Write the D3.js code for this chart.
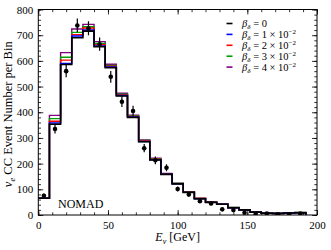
<!DOCTYPE html>
<html><head><meta charset="utf-8">
<script src="https://cdn.jsdelivr.net/npm/d3@7"></script>
<style>
body{margin:0;background:#fff}
svg{display:block}
text{font-family:"Liberation Serif","DejaVu Serif",serif;fill:#000}
</style>
</head><body>
<svg id="c" width="331" height="250"></svg>
<script>
// bin edges (GeV)
const binEdges = [0,8,16,24,32,40,48,56,64,72,80,88,96,104,112,120,128,136,144,152,160,168,176,184,192];
// predicted histograms for each beta_delta
const beta0 = [65,353,586,690,716,655,573,463,380,285,214,158,121,88,63,49,42,28,20,11,7,6,8,9];
const beta1 = [65,358,590,697,720,658,576,465,382,286,215,159,121,88,63,49,42,28,20,11,7,6,8,9];
const beta2 = [65,365,603,702,728,663,579,467,384,288,217,160,122,89,64,50,42,28,20,11,7,6,8,9];
const beta3 = [65,375,614,711,733,668,582,470,386,290,219,161,123,90,64,50,43,29,21,12,8,7,9,10];
const beta4 = [66,388,632,724,742,675,587,474,389,292,221,162,124,91,65,51,43,29,21,12,8,7,9,10];
const seriesLabels = ["0","1","2","3","4"];
// NOMAD data
const dataE = [4,12,20,28,36,44,52,60,68,76,84,92,100,108,116,124,132,140,148,156,164,172,180,188];
const dataN = [75,335,560,738,727,665,538,441,405,260,213,184,101,80,54,45,22,19,9,4,6,3,3,6];
const dataErr = [9,18,24,27,27,26,23,21,20,16,15,14,10,9,7,7,5,4,3,2,2,2,2,2];
const xTicks = [0,50,100,150,200];
const yTicks = [0,100,200,300,400,500,600,700,800];

const svg = d3.select("#c");
const L = 38.3, R = 317, T = 9.5, B = 215;
const x = d3.scaleLinear().domain([0,200]).range([L,R]);
const y = d3.scaleLinear().domain([0,800]).range([B,T]);

const series = [
  {v: beta4, c: "#800080", w: 1.4},
  {v: beta3, c: "#00a000", w: 1.4},
  {v: beta2, c: "#ff0000", w: 1.4},
  {v: beta1, c: "#0000ff", w: 1.4},
  {v: beta0, c: "#000000", w: 1.6}
];

const clipId = "pc";
svg.append("clipPath").attr("id", clipId).append("rect")
  .attr("x", L).attr("y", T).attr("width", R-L).attr("height", B-T);

function stepPts(vals){
  const pts = [];
  vals.forEach((v,i)=>{ pts.push([binEdges[i], v]); pts.push([binEdges[i+1], v]); });
  pts.push([binEdges[binEdges.length-1], 0]);
  return pts;
}
const line = d3.line().x(d=>x(d[0])).y(d=>y(d[1]));
const g = svg.append("g").attr("clip-path", `url(#${clipId})`);
series.forEach(s=>{
  g.append("path").attr("d", line(stepPts(s.v)))
    .attr("fill","none").attr("stroke", s.c).attr("stroke-width", s.w)
    .attr("stroke-linejoin","miter");
});

// data points with error bars
dataE.forEach((e,i)=>{
  g.append("line").attr("x1", x(e)).attr("x2", x(e))
    .attr("y1", y(dataN[i]-dataErr[i])).attr("y2", y(dataN[i]+dataErr[i]))
    .attr("stroke","#000").attr("stroke-width",1.2);
  g.append("circle").attr("cx", x(e)).attr("cy", y(dataN[i])).attr("r", 2.3).attr("fill","#000");
});

// axes
const minorX = d3.range(0,201,10);
const minorY = d3.range(0,801,20);
function ax(gen, scale, vals, size, fmt, tr){
  const a = svg.append("g").attr("transform", tr)
    .call(gen(scale).tickValues(vals).tickSize(size).tickPadding(4).tickFormat(fmt));
  a.select(".domain").remove();
  a.selectAll("line").attr("stroke","#000").attr("stroke-width",0.8);
  a.selectAll("text").attr("font-size", 11).style("font-family",'"Liberation Serif",serif');
  return a;
}
ax(d3.axisBottom, x, minorX, -2.7, "", `translate(0,${B})`);
ax(d3.axisBottom, x, xTicks, -5, d3.format("d"), `translate(0,${B})`).selectAll("text").attr("dy","0.95em");
ax(d3.axisTop, x, minorX, -2.7, "", `translate(0,${T})`);
ax(d3.axisTop, x, xTicks, -5, "", `translate(0,${T})`);
ax(d3.axisLeft, y, minorY, -2.7, "", `translate(${L},0)`);
ax(d3.axisLeft, y, yTicks, -5, d3.format("d"), `translate(${L},0)`).selectAll("text").attr("dx","-0.1em");
ax(d3.axisRight, y, minorY, -2.7, "", `translate(${R},0)`);
ax(d3.axisRight, y, yTicks, -5, "", `translate(${R},0)`);

svg.append("rect").attr("x", L).attr("y", T).attr("width", R-L).attr("height", B-T)
  .attr("fill","none").attr("stroke","#000").attr("stroke-width",1);

// axis labels
const xl = svg.append("text").attr("x", (L+R)/2).attr("y", 241).attr("text-anchor","middle").attr("font-size",12);
xl.append("tspan").attr("font-style","italic").text("E");
xl.append("tspan").attr("font-style","italic").attr("font-size",8).attr("dy",2.5).text("ν");
xl.append("tspan").attr("dy",-2.5).text(" [GeV]");

const yl = svg.append("text").attr("transform", `translate(12,${(T+B)/2+2}) rotate(-90)`)
  .attr("text-anchor","middle").attr("font-size",12.5);
yl.append("tspan").attr("font-style","italic").text("ν");
yl.append("tspan").attr("font-style","italic").attr("font-size",8.5).attr("dy",2.5).text("e");
yl.append("tspan").attr("dy",-2.5).text(" CC Event Number per Bin");

// NOMAD label
svg.append("text").attr("x", 58).attr("y", 207.5).attr("font-size", 12).text("NOMAD");

// legend
const legColors = ["#000000","#0000ff","#ff0000","#00a000","#800080"];
seriesLabels.forEach((lab,i)=>{
  const yy = 23.5 + i*10.9;
  svg.append("line").attr("x1",226.5).attr("x2",232.5).attr("y1",yy).attr("y2",yy)
    .attr("stroke",legColors[i]).attr("stroke-width",1.6);
  const t = svg.append("text").attr("x",242).attr("y",yy+3.5).attr("font-size",10.5);
  t.append("tspan").attr("font-style","italic").text("β");
  t.append("tspan").attr("font-style","italic").attr("font-size",7).attr("dy",2).text("δ");
  if(lab==="0"){
    t.append("tspan").attr("dy",-2).text(" = 0");
  } else {
    t.append("tspan").attr("dy",-2).text(` = ${lab} × 10`);
    t.append("tspan").attr("font-size",7).attr("dy",-4).text("−2");
  }
});
</script>
</body></html>
